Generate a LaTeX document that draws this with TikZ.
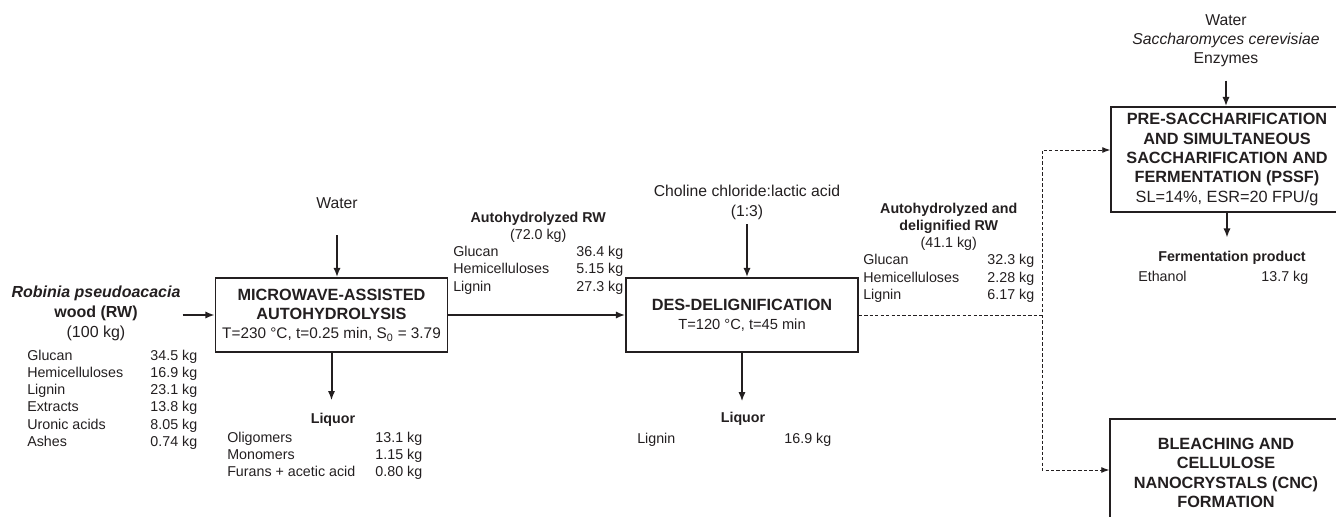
\documentclass[tikz,border=0pt]{standalone}
\usepackage{fontspec}
\setmainfont{Liberation Sans}
\usetikzlibrary{arrows.meta}
\definecolor{ink}{RGB}{35,31,32}
\newcommand{\boxfont}{\fontsize{12.2}{14.5}\selectfont}
\newcommand{\tabfont}{\fontsize{10.7}{12.9}\selectfont}
\newcommand{\infont}{\fontsize{11.8}{14.3}\selectfont}
\newcommand{\feedfont}{\fontsize{12}{15}\selectfont}
\newenvironment{masstab}[1]{\begin{tabular*}{#1}{@{}l@{\extracolsep{\fill}}r@{}}}{\end{tabular*}}

\begin{document}
\begin{tikzpicture}[x=0.75pt, y=-0.75pt,
    every node/.style={text=ink, inner sep=0pt},
    procbox/.style={draw=ink, line width=1.1pt, align=center, font=\boxfont, minimum width=174pt},
    mainflow/.style={draw=ink, line width=1.5pt, -{Latex[length=7pt,width=5.4pt]}},
    sideflow/.style={draw=ink, line width=0.7pt, dash pattern=on 2.5pt off 1.6pt, -{Latex[length=6pt,width=4.5pt]}},
    inputtext/.style={align=center, font=\infont},
    streamtab/.style={font=\tabfont, anchor=north west}]
    \clip (0,0) rectangle (1336,517);

    % process units
    \node[procbox, minimum height=55.5pt] (mw) at (331.5,315) {\textbf{MICROWAVE-ASSISTED}\\\textbf{AUTOHYDROLYSIS}\\{\fontsize{11.5}{14.5}\selectfont T=230 °C, t=0.25 min, S\textsubscript{0} = 3.79}};
    \node[procbox, minimum height=55.5pt] (des) at (742,315) {\textbf{DES-DELIGNIFICATION}\\{\fontsize{11}{14.5}\selectfont T=120 °C, t=45 min}};
    \node[procbox, minimum height=78.75pt] (pssf) at (1227,159.5) {\textbf{PRE-SACCHARIFICATION}\\\textbf{AND SIMULTANEOUS}\\\textbf{SACCHARIFICATION AND}\\\textbf{FERMENTATION (PSSF)}\\SL=14\%, ESR=20 FPU/g};
    \node[procbox, minimum height=81pt] (bleach) at (1226,473) {\textbf{BLEACHING AND}\\\textbf{CELLULOSE}\\\textbf{NANOCRYSTALS (CNC)}\\\textbf{FORMATION}};

    % inputs
    \node[inputtext] (water1) at (337,203) {Water};
    \node[inputtext, font=\fontsize{11.8}{15.5}\selectfont] (ddes) at (747,202.5) {Choline chloride:lactic acid\\(1:3)};
    \node[inputtext] (pssfin) at (1226,41) {Water\\\textit{Saccharomyces cerevisiae}\\Enzymes};

    % feedstock
    \node[align=center, font=\feedfont] (feed) at (96,313) {\textbf{\textit{Robinia pseudoacacia}}\\\textbf{wood (RW)}\\(100 kg)};
    \node[streamtab] (feedtab) at (27,348) {\begin{masstab}{127.5pt}
        Glucan & 34.5 kg\\
        Hemicelluloses & 16.9 kg\\
        Lignin & 23.1 kg\\
        Extracts & 13.8 kg\\
        Uronic acids & 8.05 kg\\
        Ashes & 0.74 kg
    \end{masstab}};

    % solid streams
    \node[streamtab] (ahrw) at (453,210) {\begin{masstab}{127.5pt}
        \multicolumn{2}{c}{\textbf{Autohydrolyzed RW}}\\
        \multicolumn{2}{c}{(72.0 kg)}\\
        Glucan & 36.4 kg\\
        Hemicelluloses & 5.15 kg\\
        Lignin & 27.3 kg
    \end{masstab}};
    \node[streamtab] (adrw) at (863,201) {\begin{masstab}{128.25pt}
        \multicolumn{2}{c}{\textbf{Autohydrolyzed and}}\\
        \multicolumn{2}{c}{\textbf{delignified RW}}\\
        \multicolumn{2}{c}{(41.1 kg)}\\
        Glucan & 32.3 kg\\
        Hemicelluloses & 2.28 kg\\
        Lignin & 6.17 kg
    \end{masstab}};

    % liquors and product
    \node[font=\tabfont] (liq1) at (333,420) {\textbf{Liquor}};
    \node[streamtab] (liq1tab) at (227,430) {\begin{masstab}{146.25pt}
        Oligomers & 13.1 kg\\
        Monomers & 1.15 kg\\
        Furans + acetic acid & 0.80 kg
    \end{masstab}};
    \node[font=\tabfont] (liq2) at (743,419) {\textbf{Liquor}};
    \node[streamtab] (liq2tab) at (637,431) {\begin{masstab}{145.5pt}
        Lignin & 16.9 kg
    \end{masstab}};
    \node[font=\tabfont] (ferm) at (1232,258) {\textbf{Fermentation product}};
    \node[streamtab] (fermtab) at (1138,269) {\begin{masstab}{127.5pt}
        Ethanol & 13.7 kg
    \end{masstab}};

    % connectors
    \draw[mainflow, shorten <=1.5pt] (feed.east |- mw.west) -- (mw.west);
    \draw[mainflow] (mw.east) -- (des.west);
    \draw[mainflow, shorten <=20pt] (water1.south) -- (water1.south |- mw.north);
    \draw[mainflow, shorten <=3pt] (ddes.south) -- (ddes.south |- des.north);
    \draw[mainflow, shorten <=10pt] (pssfin.south) -- (pssfin.south |- pssf.north);
    \draw[mainflow, shorten >=9.5pt] (mw.south) -- (mw.south |- liq1.north);
    \draw[mainflow, shorten >=8pt] (des.south) -- (des.south |- liq2.north);
    \draw[mainflow, shorten >=10pt] (pssf.south) -- (pssf.south |- ferm.north);

    \coordinate (split) at (1042,315);
    \coordinate (topturn) at (1042,150);
    \coordinate (botturn) at (1042,470);
    \draw[sideflow] (des.east) -- (split) -- (topturn) -- (topturn -| pssf.west);
    \draw[sideflow] (split) -- (botturn) -- (botturn -| bleach.west);
\end{tikzpicture}
\end{document}
